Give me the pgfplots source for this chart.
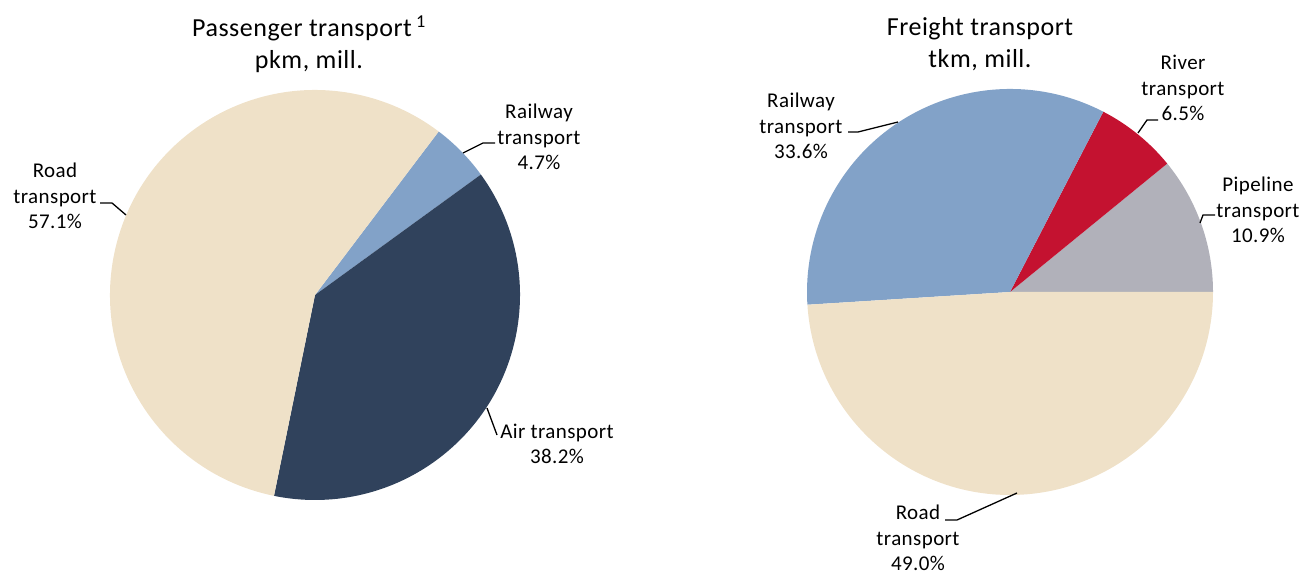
\documentclass[border=0pt]{standalone}
\usepackage{fontspec}
\setmainfont{Carlito}[LetterSpace=2]
\usepackage{pgfplots}
\pgfplotsset{compat=1.18}
\definecolor{beige}{HTML}{EFE1C8}
\definecolor{railblue}{HTML}{82A2C8}
\definecolor{navy}{HTML}{30425C}
\definecolor{rivred}{HTML}{C41230}
\definecolor{pipegray}{HTML}{B1B1BA}
\tikzset{lbl/.style={font=\fontsize{21}{25.5}\selectfont,align=center,inner sep=0pt},
  ttl/.style={font=\fontsize{26}{32}\selectfont,align=center,inner sep=0pt},
  lead/.style={black,line width=1.3pt}}
\begin{document}
\begin{tikzpicture}
\begin{axis}[x=1pt,y=1pt,xmin=0,xmax=1305,ymin=0,ymax=576,hide axis,clip=false]
\path (axis cs:0,0) rectangle (axis cs:1305,576);
% ---------- Passenger transport (%): Railway 4.7, Air 38.2, Road 57.1
\fill[railblue] (axis cs:315,281) -- ++(52.9:205pt) arc[start angle=52.9, delta angle={-4.7*3.6}, radius=205pt] -- cycle;
\fill[navy] (axis cs:315,281) -- ++({52.9-4.7*3.6}:205pt) arc[start angle={52.9-4.7*3.6}, delta angle={-38.2*3.6}, radius=205pt] -- cycle;
\fill[beige] (axis cs:315,281) -- ++({52.9-(4.7+38.2)*3.6}:205pt) arc[start angle={52.9-(4.7+38.2)*3.6}, delta angle={-57.1*3.6}, radius=205pt] -- cycle;
% ---------- Freight transport (%): Pipeline 10.9, River 6.5, Railway 33.6, Road 49.0
\fill[pipegray] (axis cs:1010,284) -- ++(0:203pt) arc[start angle=0, delta angle={10.9*3.6}, radius=203pt] -- cycle;
\fill[rivred] (axis cs:1010,284) -- ++({10.9*3.6}:203pt) arc[start angle={10.9*3.6}, delta angle={6.5*3.6}, radius=203pt] -- cycle;
\fill[railblue] (axis cs:1010,284) -- ++({(10.9+6.5)*3.6}:203pt) arc[start angle={(10.9+6.5)*3.6}, delta angle={33.6*3.6}, radius=203pt] -- cycle;
\fill[beige] (axis cs:1010,284) -- ++({(10.9+6.5+33.6)*3.6}:203pt) arc[start angle={(10.9+6.5+33.6)*3.6}, delta angle={49.0*3.6}, radius=203pt] -- cycle;
% titles
\node[ttl] at (axis cs:309,532) {Passenger transport\,\textsuperscript{1}\\pkm, mill.};
\node[ttl] at (axis cs:980,532) {Freight transport\\tkm, mill.};
% labels and leader lines
\draw[lead] (axis cs:463,423) -- (axis cs:483,433) -- (axis cs:495,433);
\node[lbl] at (axis cs:539,439) {Railway\\transport\\4.7\%};
\draw[lead] (axis cs:126,361) -- (axis cs:112,373) -- (axis cs:100,373);
\node[lbl] at (axis cs:55,380) {Road\\transport\\57.1\%};
\draw[lead] (axis cs:487,168) -- (axis cs:497,141);
\node[lbl] at (axis cs:557,132) {Air transport\\38.2\%};
\draw[lead] (axis cs:898,454) -- (axis cs:858,444) -- (axis cs:848,444);
\node[lbl] at (axis cs:801,450) {Railway\\transport\\33.6\%};
\draw[lead] (axis cs:1138,443) -- (axis cs:1147,456) -- (axis cs:1158,456);
\node[lbl] at (axis cs:1183,488) {River\\transport\\6.5\%};
\draw[lead] (axis cs:1200,353) -- (axis cs:1203,361) -- (axis cs:1215,361);
\node[lbl] at (axis cs:1258,366) {Pipeline\\transport\\10.9\%};
\draw[lead] (axis cs:1017,83) -- (axis cs:957,56) -- (axis cs:945,56);
\node[lbl] at (axis cs:918,38) {Road\\transport\\49.0\%};
\end{axis}
\end{tikzpicture}
\end{document}
